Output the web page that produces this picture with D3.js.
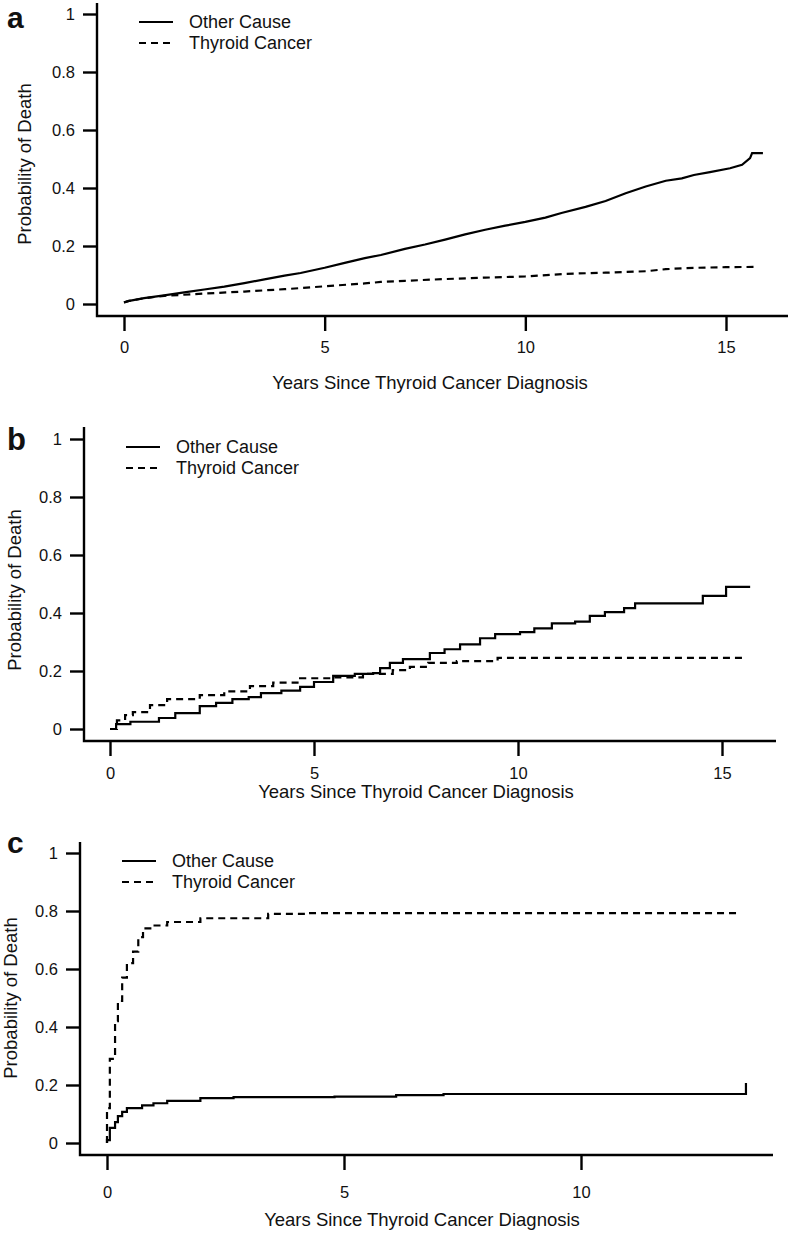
<!DOCTYPE html>
<html><head><meta charset="utf-8">
<script src="https://cdn.jsdelivr.net/npm/d3@7"></script>
<style>
body{margin:0;background:#fff;}
text{font-family:"Liberation Sans",Arial,sans-serif;fill:#111;}
</style></head>
<body><svg id="chart" width="792" height="1233"></svg>
<script>
// ---------- data ----------
const legendLabels = ["Other Cause", "Thyroid Cancer"];
const panelLetters = ["a", "b", "c"];
const yTicks = [0, 0.2, 0.4, 0.6, 0.8, 1];
const xTicksAB = [0, 5, 10, 15];
const xTicksC = [0, 5, 10];
const xTitle = "Years Since Thyroid Cancer Diagnosis";
const yTitle = "Probability of Death";

// panel a
const aOtherT = [0, 0.1, 0.5, 1, 1.5, 2, 2.5, 3, 3.5, 4, 4.4, 5, 5.5, 6, 6.4, 7, 7.5, 8, 8.5, 9, 9.5, 10, 10.5, 10.9, 11.5, 12, 12.5, 13, 13.5, 13.9, 14.2, 14.6, 15.1, 15.4, 15.6, 15.65, 15.92];
const aOtherV = [0.005, 0.01, 0.02, 0.03, 0.04, 0.05, 0.06, 0.072, 0.085, 0.098, 0.107, 0.125, 0.142, 0.158, 0.169, 0.19, 0.205, 0.222, 0.24, 0.256, 0.27, 0.283, 0.298, 0.314, 0.335, 0.355, 0.382, 0.405, 0.425, 0.433, 0.445, 0.455, 0.468, 0.48, 0.503, 0.52, 0.52];
const aThyT = [0, 0.1, 0.5, 1, 2, 3, 4, 4.4, 5, 6, 6.4, 7, 8, 9, 10, 11, 12, 13, 13.5, 14, 15, 15.77];
const aThyV = [0.005, 0.01, 0.02, 0.028, 0.036, 0.043, 0.051, 0.055, 0.061, 0.071, 0.076, 0.08, 0.086, 0.091, 0.095, 0.104, 0.108, 0.113, 0.12, 0.124, 0.127, 0.128];

// panel b
const bOtherT = [0, 0.15, 0.5, 1.2, 1.6, 2.2, 2.6, 3.0, 3.4, 3.7, 4.2, 4.66, 5.0, 5.47, 6.0, 6.45, 6.62, 6.86, 7.18, 7.84, 8.2, 8.58, 9.07, 9.44, 10.05, 10.4, 10.83, 11.4, 11.76, 12.13, 12.6, 12.87, 14.53, 15.1, 15.69];
const bOtherV = [0, 0.017, 0.025, 0.038, 0.055, 0.079, 0.09, 0.103, 0.11, 0.124, 0.132, 0.145, 0.162, 0.183, 0.19, 0.193, 0.21, 0.228, 0.241, 0.262, 0.275, 0.292, 0.313, 0.327, 0.334, 0.347, 0.364, 0.37, 0.39, 0.403, 0.417, 0.433, 0.459, 0.49, 0.49];
const bThyT = [0, 0.17, 0.37, 0.56, 0.98, 1.4, 2.2, 2.8, 3.43, 4.0, 4.66, 5.4, 6.2, 6.93, 7.35, 7.8, 8.5, 9.5, 15.56];
const bThyV = [0, 0.03, 0.048, 0.058, 0.082, 0.103, 0.117, 0.13, 0.148, 0.16, 0.175, 0.178, 0.19, 0.203, 0.214, 0.228, 0.234, 0.245, 0.248];

// panel c
const cOtherT = [0, 0, 0.06, 0.17, 0.23, 0.32, 0.42, 0.74, 0.98, 1.27, 1.97, 2.67, 4.8, 6.1, 7.1, 13.48];
const cOtherV = [0, 0.01, 0.052, 0.072, 0.093, 0.107, 0.12, 0.13, 0.137, 0.145, 0.155, 0.158, 0.16, 0.165, 0.169, 0.207];
const cThyT = [0, 0, 0.06, 0.17, 0.23, 0.32, 0.42, 0.55, 0.66, 0.76, 0.97, 1.27, 1.97, 3.4, 4.2, 13.3];
const cThyV = [0, 0.12, 0.29, 0.42, 0.49, 0.57, 0.62, 0.66, 0.71, 0.74, 0.75, 0.762, 0.775, 0.79, 0.793, 0.793];

// ---------- layout ----------
const panels = [
  {letter: panelLetters[0], letterX: 7, letterY: 28, letterSize: 30,
   axisX: 97, axisTop: 3, axisY: 316, axisRight: 788,
   xDomain: [0, 15], xRange: [124, 726], yRange: [304, 14], xTicks: xTicksAB,
   tickLabY: 353, titleY: 389, titleX: 430, yTitleX: 31, yTitleY: 164,
   legX: 139, legY: 22, curve: d3.curveLinear,
   other: [aOtherT, aOtherV], thy: [aThyT, aThyV]},
  {letter: panelLetters[1], letterX: 7, letterY: 450, letterSize: 31,
   axisX: 84, axisTop: 427, axisY: 741, axisRight: 776,
   xDomain: [0, 15], xRange: [110, 722], yRange: [729, 439], xTicks: xTicksAB,
   tickLabY: 779, titleY: 798, titleX: 416, yTitleX: 21, yTitleY: 590,
   legX: 126, legY: 447, curve: d3.curveStepAfter,
   other: [bOtherT, bOtherV], thy: [bThyT, bThyV]},
  {letter: panelLetters[2], letterX: 7, letterY: 853, letterSize: 30,
   axisX: 80, axisTop: 842, axisY: 1155, axisRight: 773,
   xDomain: [0, 10], xRange: [107, 581], yRange: [1143, 853], xTicks: xTicksC,
   tickLabY: 1198, titleY: 1226, titleX: 422, yTitleX: 17, yTitleY: 998,
   legX: 122, legY: 861, curve: d3.curveStepAfter,
   other: [cOtherT, cOtherV], thy: [cThyT, cThyV]}
];

const svg = d3.select("#chart");

panels.forEach(p => {
  const g = svg.append("g");
  const x = d3.scaleLinear().domain(p.xDomain).range(p.xRange);
  const y = d3.scaleLinear().domain([0, 1]).range(p.yRange);

  // axis lines
  g.append("path")
    .attr("d", `M${p.axisX},${p.axisTop}V${p.axisY}H${p.axisRight}`)
    .attr("fill", "none").attr("stroke", "#000").attr("stroke-width", 2.4);

  // y axis ticks
  const ya = g.append("g").attr("transform", `translate(${p.axisX},0)`)
    .call(d3.axisLeft(y).tickValues(yTicks).tickSize(14).tickPadding(8).tickFormat(d3.format("")));
  ya.select(".domain").remove();
  ya.selectAll(".tick line").attr("stroke", "#000").attr("stroke-width", 2.4);
  ya.selectAll(".tick text").attr("font-size", 16.5).attr("font-family", "Liberation Sans, Arial, sans-serif").attr("fill", "#222");

  // x axis ticks
  const xa = g.append("g").attr("transform", `translate(0,${p.axisY})`)
    .call(d3.axisBottom(x).tickValues(p.xTicks).tickSize(15).tickFormat(d3.format("")));
  xa.select(".domain").remove();
  xa.selectAll(".tick line").attr("stroke", "#000").attr("stroke-width", 2.4);
  xa.selectAll(".tick text").attr("font-size", 16.5).attr("font-family", "Liberation Sans, Arial, sans-serif")
    .attr("fill", "#222").attr("dy", null).attr("y", p.tickLabY - p.axisY);

  // titles
  g.append("text").attr("x", p.titleX).attr("y", p.titleY).attr("text-anchor", "middle")
    .attr("font-size", 18.5).text(xTitle);
  g.append("text").attr("transform", `translate(${p.yTitleX},${p.yTitleY}) rotate(-90)`)
    .attr("text-anchor", "middle").attr("font-size", 18.5).text(yTitle);
  g.append("text").attr("x", p.letterX).attr("y", p.letterY).attr("font-size", p.letterSize)
    .attr("font-weight", "bold").attr("fill", "#000").text(p.letter);

  // curves
  const line = d3.line().x(d => x(d[0])).y(d => y(d[1])).curve(p.curve);
  const series = [
    {t: p.other[0], v: p.other[1], dash: null},
    {t: p.thy[0], v: p.thy[1], dash: "7,5"}
  ];
  series.forEach(s => {
    const pts = s.t.map((t, i) => [t, s.v[i]]);
    g.append("path").datum(pts).attr("d", line)
      .attr("fill", "none").attr("stroke", "#000").attr("stroke-width", 2.2)
      .attr("stroke-dasharray", s.dash);
  });

  // legend
  legendLabels.forEach((lab, i) => {
    const ly = p.legY + i * 21;
    g.append("line").attr("x1", p.legX).attr("x2", p.legX + 34).attr("y1", ly).attr("y2", ly)
      .attr("stroke", "#000").attr("stroke-width", 2.2).attr("stroke-dasharray", i === 1 ? "7,5" : null);
    g.append("text").attr("x", p.legX + 50).attr("y", ly).attr("dy", "0.35em")
      .attr("font-size", 18).text(lab);
  });
});
</script></body></html>
